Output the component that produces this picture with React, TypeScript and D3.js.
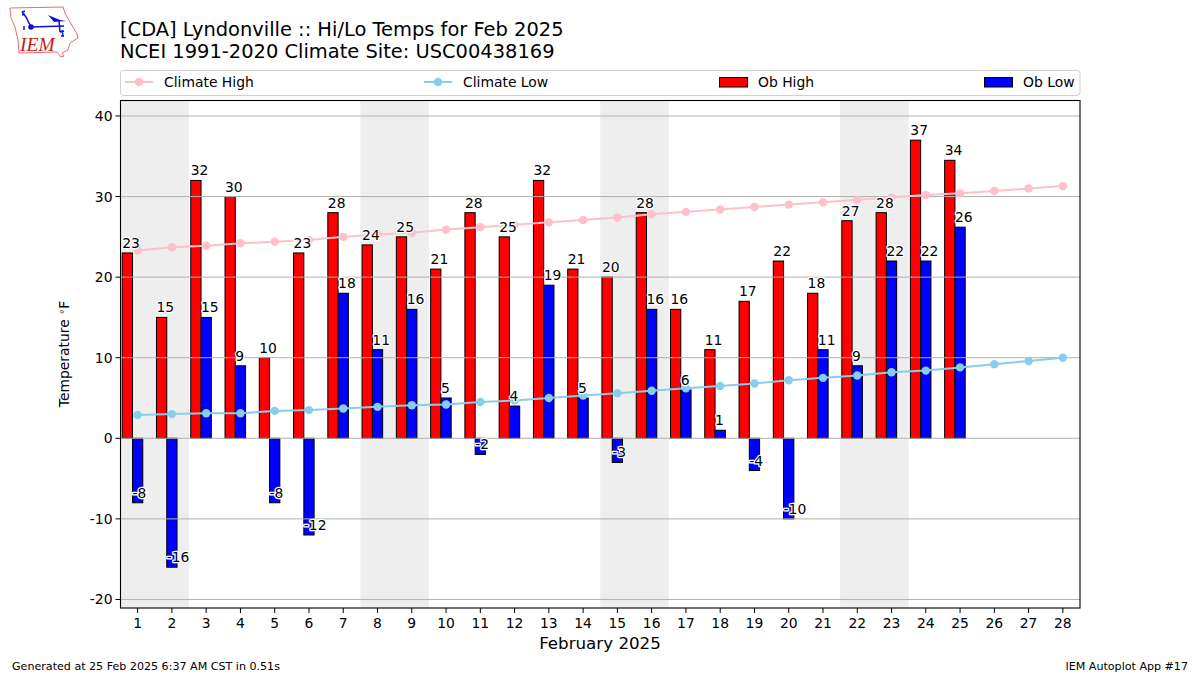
import React from "react";
import * as d3 from "d3";

const days = d3.range(1, 29);
const obHigh = [23, 15, 32, 30, 10, 23, 28, 24, 25, 21, 28, 25, 32, 21, 20, 28, 16, 11, 17, 22, 18, 27, 28, 37, 34.5];
const obLow = [-8, -16, 15, 9, -8, -12, 18, 11, 16, 5, -2, 4, 19, 5, -3, 16, 6, 1, -4, -10, 11, 9, 22, 22, 26.2];
const climateHigh = [23.3, 23.7, 23.9, 24.2, 24.4, 24.6, 25.0, 25.3, 25.5, 25.9, 26.2, 26.5, 26.8, 27.1, 27.4, 27.8, 28.1, 28.4, 28.7, 29.0, 29.3, 29.6, 29.9, 30.2, 30.4, 30.7, 31.0, 31.3];
const climateLow = [2.9, 3.0, 3.1, 3.1, 3.4, 3.5, 3.7, 3.9, 4.1, 4.2, 4.5, 4.7, 5.0, 5.3, 5.6, 5.9, 6.2, 6.5, 6.8, 7.2, 7.5, 7.8, 8.2, 8.4, 8.8, 9.2, 9.6, 10.0];
const weekends = [[0.5, 2.5], [7.5, 9.5], [14.5, 16.5], [21.5, 23.5]];
const yTicks = [-20, -10, 0, 10, 20, 30, 40];
const titleLines = ["[CDA] Lyndonville :: Hi/Lo Temps for Feb 2025", "NCEI 1991-2020 Climate Site: USC00438169"];
const FONT = "'DejaVu Sans', sans-serif";

const L = 120.5, R = 1080, T = 100.5, B = 608;
const x = d3.scaleLinear().domain([0.5, 28.5]).range([L, R]);
const y = d3.scaleLinear().domain([-21.06, 41.92]).range([B, T]);
const barW = x(0.8) - x(0.5);
const lineGen = d3.line<number>().x((_, i) => x(days[i])).y((v) => y(v));

function Bars({ values, off, fill }: { values: number[]; off: number; fill: string }) {
  return (
    <g>
      {values.map((v, i) => (
        <rect key={i} x={x(days[i] + off)} width={barW} y={Math.min(y(v), y(0))} height={Math.abs(y(v) - y(0))}
          fill={fill} stroke="#000" strokeWidth={1} />
      ))}
    </g>
  );
}

function Clim({ values, color }: { values: number[]; color: string }) {
  return (
    <g>
      <path d={lineGen(values) ?? ""} fill="none" stroke={color} strokeWidth={2} />
      {values.map((v, i) => <circle key={i} cx={x(days[i])} cy={y(v)} r={4.2} fill={color} />)}
    </g>
  );
}

function Labels({ values, off }: { values: number[]; off: number }) {
  return (
    <g fontSize={13.9} fill="#000" stroke="#fff" strokeWidth={2.6} style={{ paintOrder: "stroke" }} strokeLinejoin="round">
      {values.map((v, i) => (
        <text key={i} x={x(days[i] + off)} y={y(v) - 5}>{Math.trunc(v)}</text>
      ))}
    </g>
  );
}

function Logo() {
  return (
    <g>
      <path d="M10 8 L63 7 L65 13 L70 22 L77 34 L78 38 L70 43 L68 50 L62 53 L64 56 L61 57 L57 52 L19 53 L18 40 L15 27 L11 18 Z"
        fill="#fff" stroke="#e07070" strokeWidth={1} />
      <g stroke="#1010d8" fill="none" strokeWidth={1.5}>
        <path d="M31 27 L64 26 M31 27 L26 17 L22 12 M22 12 L25 11 M22 15 L25 14" />
        <path d="M59 21 L60 32 M60 32 L64 31 M62 30 L63 36" />
      </g>
      <path d="M48 15 L60 20 L66 21 L54 22 Z" fill="#1010d8" />
      <circle cx={31} cy={27} r={2.8} fill="#1010d8" />
      <path d="M23 29 L25 29 M23 27 L25 27 M61 36 L64 36" stroke="#1010d8" strokeWidth={1.5} />
      <text x={20} y={51} fontFamily="'Liberation Serif', serif" fontStyle="italic" fontSize={19.5} fill="#cc1a1a">IEM</text>
    </g>
  );
}

function Legend() {
  const cy = 82;
  return (
    <g fontSize={13.9} fill="#000">
      <rect x={120.5} y={70.5} width={959.5} height={25} rx={3} fill="#fff" stroke="#d0d0d0" strokeWidth={1} />
      <line x1={125} x2={153} y1={cy} y2={cy} stroke="pink" strokeWidth={2} />
      <circle cx={139} cy={cy} r={4.2} fill="pink" />
      <text x={164} y={cy + 4.5}>Climate High</text>
      <line x1={424} x2={452} y1={cy} y2={cy} stroke="skyblue" strokeWidth={2} />
      <circle cx={438} cy={cy} r={4.2} fill="skyblue" />
      <text x={463} y={cy + 4.5}>Climate Low</text>
      <rect x={719.5} y={77.5} width={28} height={9.5} fill="red" stroke="#000" strokeWidth={1} />
      <text x={758} y={cy + 4.5}>Ob High</text>
      <rect x={984.5} y={77.5} width={28} height={9.5} fill="blue" stroke="#000" strokeWidth={1} />
      <text x={1023} y={cy + 4.5}>Ob Low</text>
    </g>
  );
}

export default function App() {
  return (
    <svg width={1200} height={675} viewBox="0 0 1200 675" fontFamily={FONT}
      style={{ position: "absolute", left: 0, top: 0, display: "block", background: "#fff" }}>
      <Logo />
      {titleLines.map((t, i) => (
        <text key={i} x={120} y={35.5 + i * 22} fontSize={19.45} fill="#000">{t}</text>
      ))}
      <Legend />

      {weekends.map(([a, b], i) => (
        <rect key={i} x={x(a)} width={x(b) - x(a)} y={T} height={B - T} fill="#eeeeee" />
      ))}
      <Bars values={obHigh} off={-0.45} fill="red" />
      <Bars values={obLow} off={-0.15} fill="blue" />
      {yTicks.map((t) => (
        <line key={t} x1={L} x2={R} y1={y(t)} y2={y(t)} stroke="#b0b0b0" strokeWidth={1} />
      ))}
      <Clim values={climateHigh} color="pink" />
      <Clim values={climateLow} color="skyblue" />
      <Labels values={obHigh} off={-0.45} />
      <Labels values={obLow} off={-0.15} />

      <rect x={L} y={T} width={R - L} height={B - T} fill="none" stroke="#000" strokeWidth={1.1} />
      {yTicks.map((t) => (
        <g key={t}>
          <line x1={L - 5} x2={L} y1={y(t)} y2={y(t)} stroke="#000" strokeWidth={1} />
          <text x={L - 8} y={y(t) + 5} textAnchor="end" fontSize={13.9} fill="#000">{t}</text>
        </g>
      ))}
      {days.map((d) => (
        <g key={d}>
          <line x1={x(d)} x2={x(d)} y1={B} y2={B + 5} stroke="#000" strokeWidth={1} />
          <text x={x(d)} y={B + 19.5} textAnchor="middle" fontSize={13.9} fill="#000">{d}</text>
        </g>
      ))}
      <text x={600} y={649} textAnchor="middle" fontSize={16.7} fill="#000">February 2025</text>
      <text transform={`translate(69,354) rotate(-90)`} textAnchor="middle" fontSize={13.9} fill="#000">Temperature <tspan fontSize={9.7} dy={-4}>∘</tspan><tspan dy={4}>F</tspan></text>
      <text x={12} y={670} fontSize={11.1} fill="#000">Generated at 25 Feb 2025 6:37 AM CST in 0.51s</text>
      <text x={1188} y={670} textAnchor="end" fontSize={11.1} fill="#000">IEM Autoplot App #17</text>
    </svg>
  );
}
